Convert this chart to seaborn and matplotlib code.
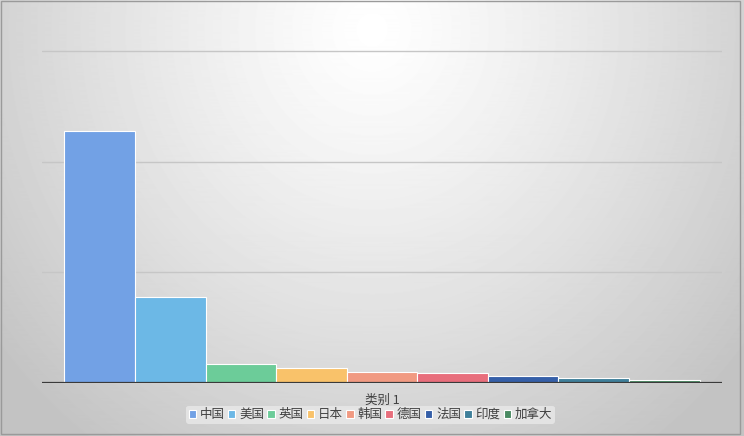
import numpy as np
import pandas as pd
import seaborn as sns
import matplotlib.pyplot as plt
from matplotlib.patches import Rectangle

sns.set_style("white")
plt.rcParams['font.family'] = ['Noto Sans CJK SC', 'DejaVu Sans']

# 数据
category = ['类别 1']
countries = ['中国', '美国', '英国', '日本', '韩国', '德国', '法国', '印度', '加拿大']
values = [228, 78, 17, 13.5, 10, 9, 6.3, 4.5, 2.7]
colors = ['#72a1e5', '#6cb8e6', '#6ccc99', '#f9c26a', '#f19a82',
          '#e86e7c', '#355fa8', '#3f7f9a', '#4a8a62']

df = pd.DataFrame({'类别': category * len(countries), '国家': countries, '值': values})

fig = plt.figure(figsize=(7.44, 4.36), dpi=100)

# 背景渐变
bg = fig.add_axes([0, 0, 1, 1], zorder=-10)
yy, xx = np.mgrid[0:436, 0:744]
d = np.sqrt(((xx - 372) / 420.0) ** 2 + ((yy - 30) / 450.0) ** 2)
shade = 1 - 0.2 * np.clip(d, 0, 1.15) ** 1.2
bg.imshow(shade, cmap='gray', vmin=0, vmax=1, aspect='auto', extent=[0, 1, 0, 1])
bg.axis('off')
fig.add_artist(Rectangle((0.001, 0.004), 0.994, 0.994, transform=fig.transFigure,
                         fill=False, edgecolor='#9a9a9a', linewidth=1))

ax = fig.add_axes([42 / 744, 1 - 383 / 436, 680 / 744, 333 / 436])
ax.set_facecolor('none')

sns.barplot(data=df, x='类别', y='值', hue='国家', hue_order=countries,
            palette=colors, width=0.934, saturation=1, edgecolor='white',
            linewidth=0.8, ax=ax, zorder=3)

ax.set_xlim(-0.5, 0.5)
ax.set_ylim(0, 301)
ax.set_yticks([0, 100, 200, 300])
ax.set_yticklabels([])
ax.yaxis.grid(True, color='#c6c6c6', linewidth=1)
ax.tick_params(axis='both', length=0)
ax.tick_params(axis='x', labelsize=9, labelcolor='#404040', pad=8)
ax.axhline(0, color='#3a3a3a', linewidth=1.6, zorder=4)
for s in ax.spines.values():
    s.set_visible(False)
ax.set_xlabel('')
ax.set_ylabel('')

handles, labels = ax.get_legend_handles_labels()
leg = ax.legend(handles, labels, ncol=9, loc='upper center',
                bbox_to_anchor=(0.483, -0.068), fontsize=9, frameon=True,
                handlelength=0.6, handleheight=0.6, handletextpad=0.3,
                columnspacing=0.25, borderpad=0.2, borderaxespad=0)
leg.get_frame().set_facecolor('#e9e9e9')
leg.get_frame().set_edgecolor('none')
leg.get_frame().set_alpha(0.8)
for t in leg.get_texts():
    t.set_color('#404040')

fig.savefig('out.png', dpi=100)
